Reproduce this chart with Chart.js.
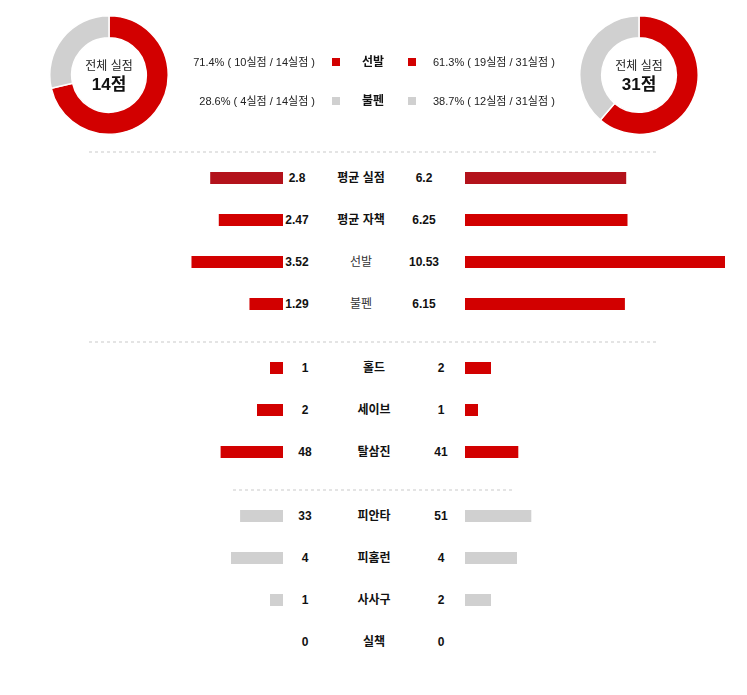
<!DOCTYPE html>
<html>
<head>
<meta charset="utf-8">
<script src="https://cdn.jsdelivr.net/npm/chart.js@4.4.1/dist/chart.umd.min.js"></script>
<style>
  body { margin: 0; background: #fff; }
  #wrap { position: relative; width: 747px; height: 695px; overflow: hidden;
          font-family: "Liberation Sans", Arial, "Noto Sans CJK KR", sans-serif; color: #111; }
  #wrap canvas { position: absolute; }
  .t { position: absolute; white-space: nowrap; font-size: 12px; line-height: 14px; transform: translate(-50%, -50%); }
  .b { font-weight: bold; }
  .lg { font-size: 11px; color: #222; }
  .sq { position: absolute; width: 8px; height: 8px; }
  .dash { position: absolute; height: 2px;
          background: repeating-linear-gradient(to right, #e4e4e4 0 3px, transparent 3px 6px); }
</style>
</head>
<body>
<div id="wrap">
  <canvas id="pieL" width="120" height="120" style="left:49px;top:15px"></canvas>
  <canvas id="pieR" width="120" height="120" style="left:579px;top:15px"></canvas>

  <div class="dash" style="left:89px;top:151px;width:567px"></div>
  <div class="dash" style="left:89px;top:341px;width:567px"></div>
  <div class="dash" style="left:233px;top:489px;width:281px"></div>

  <canvas id="avgL" width="260" height="168" style="left:23px;top:157px"></canvas>
  <canvas id="avgR" width="260" height="168" style="left:465px;top:157px"></canvas>
  <canvas id="pitL" width="260" height="126" style="left:23px;top:347px"></canvas>
  <canvas id="pitR" width="260" height="126" style="left:465px;top:347px"></canvas>
  <canvas id="algL" width="260" height="168" style="left:23px;top:495px"></canvas>
  <canvas id="algR" width="260" height="168" style="left:465px;top:495px"></canvas>
</div>
<script>
// donut: runs allowed by starters / bullpen
const runTypes = ['선발', '불펜'];
const leftRuns = [10, 4];
const rightRuns = [19, 12];

// averages section
const avgLabels = ['평균 실점', '평균 자책', '선발', '불펜'];
const avgLeft = [2.8, 2.47, 3.52, 1.29];
const avgRight = [6.2, 6.25, 10.53, 6.15];
const avgMax = [10, 10, 10, 10];

// pitching counts
const pitLabels = ['홀드', '세이브', '탈삼진'];
const pitLeft = [1, 2, 48];
const pitRight = [2, 1, 41];
const pitMax = [20, 20, 200];

// allowed
const algLabels = ['피안타', '피홈런', '사사구', '실책'];
const algLeft = [33, 4, 1, 0];
const algRight = [51, 4, 2, 0];
const algMax = [200, 20, 20, 20];

const RED = '#d20000';
const DARK = '#b3121b';
const GRAY = '#d0d0d0';

const wrap = document.getElementById('wrap');

function addText(text, x, y, cls, style) {
    const d = document.createElement('div');
    d.className = 't ' + (cls || '');
    d.textContent = text;
    d.style.left = x + 'px';
    d.style.top = y + 'px';
    if (style) Object.assign(d.style, style);
    wrap.appendChild(d);
    return d;
}

function drawPie(id, runs) {
    new Chart(document.getElementById(id), {
        type: 'doughnut',
        data: {
            labels: runTypes,
            datasets: [{
                data: runs,
                backgroundColor: [RED, GRAY],
                borderColor: '#fff',
                borderWidth: 1.5
            }]
        },
        options: {
            responsive: false,
            animation: false,
            cutout: '63%',
            plugins: { legend: { display: false }, tooltip: { enabled: false } }
        }
    });
}

function drawBars(id, labels, values, maxes, colors, reverse) {
    const scales = {
        y: { type: 'category', display: false, offset: true }
    };
    const datasets = values.map((v, i) => {
        scales['x' + i] = { type: 'linear', axis: 'x', display: false, min: 0, max: maxes[i], reverse: reverse };
        return {
            data: labels.map((_, j) => j === i ? v : null),
            xAxisID: 'x' + i,
            backgroundColor: colors[i],
            grouped: false,
            barThickness: 12,
            borderWidth: 0,
            inflateAmount: 0
        };
    });
    new Chart(document.getElementById(id), {
        type: 'bar',
        data: { labels: labels, datasets: datasets },
        options: {
            indexAxis: 'y',
            responsive: false,
            animation: false,
            layout: { padding: 0 },
            scales: scales,
            plugins: { legend: { display: false }, tooltip: { enabled: false } }
        }
    });
}

drawPie('pieL', leftRuns);
drawPie('pieR', rightRuns);

const leftTotal = leftRuns.reduce((a, b) => a + b, 0);
const rightTotal = rightRuns.reduce((a, b) => a + b, 0);
addText('전체 실점', 109, 66, '', { color: '#222' });
addText(leftTotal + '점', 109, 85, 'b', { fontSize: '17px', lineHeight: '20px' });
addText('전체 실점', 639, 66, '', { color: '#222' });
addText(rightTotal + '점', 639, 85, 'b', { fontSize: '17px', lineHeight: '20px' });

// legend rows
const legendY = [62, 101];
const legendColors = [RED, GRAY];
runTypes.forEach((name, i) => {
    const lp = (leftRuns[i] / leftTotal * 100).toFixed(1);
    const rp = (rightRuns[i] / rightTotal * 100).toFixed(1);
    const l = addText(lp + '% ( ' + leftRuns[i] + '실점 / ' + leftTotal + '실점 )', 315, legendY[i], 'lg');
    l.style.transform = 'translate(-100%, -50%)';
    const r = addText(rp + '% ( ' + rightRuns[i] + '실점 / ' + rightTotal + '실점 )', 433, legendY[i], 'lg');
    r.style.transform = 'translate(0, -50%)';
    addText(name, 373, legendY[i], 'b');
    [332, 408].forEach(x => {
        const s = document.createElement('div');
        s.className = 'sq';
        s.style.left = x + 'px';
        s.style.top = (legendY[i] - 4) + 'px';
        s.style.background = legendColors[i];
        wrap.appendChild(s);
    });
});

// bars
const avgColors = [DARK, RED, RED, RED];
drawBars('avgL', avgLabels, avgLeft, avgMax, avgColors, true);
drawBars('avgR', avgLabels, avgRight, avgMax, avgColors, false);
drawBars('pitL', pitLabels, pitLeft, pitMax, pitLabels.map(() => RED), true);
drawBars('pitR', pitLabels, pitRight, pitMax, pitLabels.map(() => RED), false);
drawBars('algL', algLabels, algLeft, algMax, algLabels.map(() => GRAY), true);
drawBars('algR', algLabels, algRight, algMax, algLabels.map(() => GRAY), false);

// row texts
function rowTexts(labels, left, right, top, lx, cx, rx, boldIdx) {
    labels.forEach((name, i) => {
        const y = top + 21 + i * 42;
        addText(String(left[i]), lx, y, 'b');
        addText(String(right[i]), rx, y, 'b');
        const c = addText(name, cx, y, boldIdx.includes(i) ? 'b' : '');
        if (!boldIdx.includes(i)) c.style.color = '#333';
    });
}
rowTexts(avgLabels, avgLeft, avgRight, 157, 297, 361, 424, [0, 1]);
rowTexts(pitLabels, pitLeft, pitRight, 347, 305, 374, 441, [0, 1, 2]);
rowTexts(algLabels, algLeft, algRight, 495, 305, 374, 441, [0, 1, 2, 3]);
</script>
</body>
</html>
